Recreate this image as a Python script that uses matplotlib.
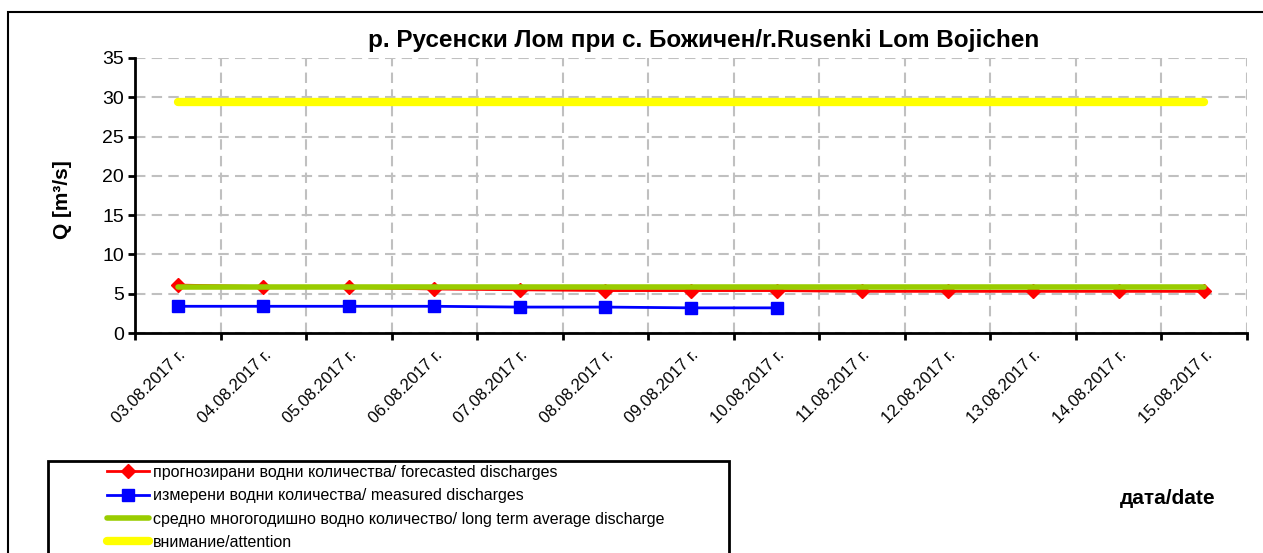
import matplotlib
matplotlib.use("Agg")
import matplotlib.pyplot as plt
import numpy as np
from matplotlib.patches import Rectangle

plt.rcParams['font.family'] = ['Liberation Sans', 'DejaVu Sans']

dates = ["03.08.2017 г.", "04.08.2017 г.", "05.08.2017 г.", "06.08.2017 г.",
         "07.08.2017 г.", "08.08.2017 г.", "09.08.2017 г.", "10.08.2017 г.",
         "11.08.2017 г.", "12.08.2017 г.", "13.08.2017 г.", "14.08.2017 г.",
         "15.08.2017 г."]
forecast = [6.1, 5.9, 5.8, 5.6, 5.5, 5.4, 5.4, 5.4, 5.3, 5.3, 5.3, 5.3, 5.3]
measured = [3.4, 3.4, 3.4, 3.4, 3.3, 3.3, 3.2, 3.2]
average = [5.8] * 13
attention = [29.4] * 13

labels = ["прогнозирани водни количества/ forecasted discharges",
          "измерени водни количества/ measured discharges",
          "средно многогодишно водно количество/ long term average discharge",
          "внимание/attention"]

fig = plt.figure(figsize=(12.63, 5.53), dpi=100)
ax = fig.add_axes([135 / 1263, 1 - 333 / 553, 1112 / 1263, 275 / 553])

x = np.arange(len(dates))
l1, = ax.plot(x, forecast, color='red', lw=2, marker='D', ms=7, zorder=3)
l2, = ax.plot(x[:len(measured)], measured, color='blue', lw=2, marker='s', ms=9, zorder=4)
l3, = ax.plot(x, average, color='#99cc00', lw=4, solid_capstyle='round', zorder=5)
l4, = ax.plot(x, attention, color='yellow', lw=6, solid_capstyle='round', zorder=6)

ax.set_xlim(-0.5, len(dates) - 0.5)
ax.set_ylim(0, 35)
ax.set_yticks(np.arange(0, 36, 5))
ax.set_xticks(np.arange(-0.5, len(dates), 1))
ax.set_xticklabels([])
ax.set_xticks(x, minor=True)
ax.set_xticklabels(dates, minor=True, rotation=45, ha='right', va='top',
                   rotation_mode='anchor', fontsize=12)
ax.tick_params(axis='x', which='minor', length=0, pad=10)
ax.tick_params(axis='x', which='major', length=5, width=2, direction='out')
ax.tick_params(axis='y', length=5, width=2, labelsize=14, pad=3)
ax.grid(True, which='major', color='#c0c0c0', ls=(0, (5, 3)), lw=1.5)
ax.set_axisbelow(True)
for s in ['top', 'right']:
    ax.spines[s].set_visible(False)
for s in ['left', 'bottom']:
    ax.spines[s].set_linewidth(2)

fig.text(704 / 1263, 1 - 40 / 553, "р. Русенски Лом при с. Божичен/r.Rusenki Lom Bojichen",
         ha='center', va='center', fontsize=17.5, fontweight='bold')
fig.text(63 / 1263, 1 - 200 / 553, "Q [m³/s]", rotation=90, ha='center', va='center',
         fontsize=15, fontweight='bold')
fig.text(1168 / 1263, 1 - 499 / 553, "дата/date", ha='center', va='center',
         fontsize=15, fontweight='bold')

# outer frame and legend frame
fig.patches.append(Rectangle((8 / 1263, -0.1), 1.1, 1 - 12 / 553 + 0.1, transform=fig.transFigure,
                             fill=False, ec='black', lw=1.5))
fig.patches.append(Rectangle((48 / 1263, -0.1), (729 - 48) / 1263, 1 - 461 / 553 + 0.1,
                             transform=fig.transFigure, fill=False, ec='black', lw=2))

leg = fig.legend([l1, l2, l3, l4], labels, loc='upper left',
                 bbox_to_anchor=(107 / 1263, 1 - 465 / 553), frameon=False,
                 fontsize=11.5, handlelength=2.6, handletextpad=0.3, labelspacing=0.52,
                 borderpad=0, borderaxespad=0)

fig.savefig("out.png", dpi=100)
